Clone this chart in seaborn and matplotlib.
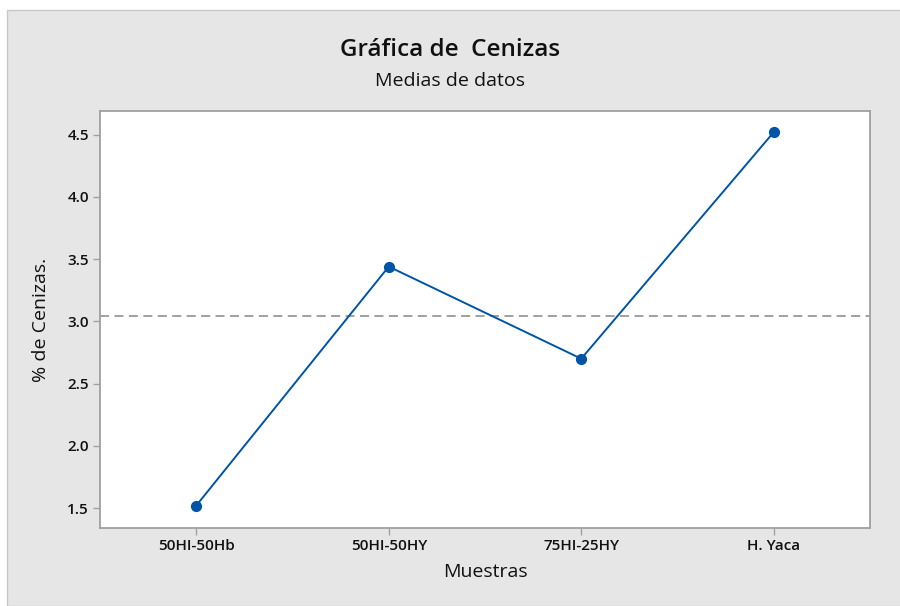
"""
Gráfica de Cenizas - medias de datos
"""

import matplotlib.pyplot as plt
import numpy as np
import pandas as pd
import seaborn as sns
from matplotlib.patches import Rectangle

muestras = ["50HI-50Hb", "50HI-50HY", "75HI-25HY", "H. Yaca"]
cenizas = [1.52, 3.44, 2.70, 4.52]
y_ticks = [1.5, 2.0, 2.5, 3.0, 3.5, 4.0, 4.5]

BG = "#e6e6e6"
BLUE = "#0054a6"
INK = "#111111"

sns.set_theme(style="white")
plt.rcParams["font.family"] = ["Open Sans", "DejaVu Sans"]

df = pd.DataFrame({"Muestras": muestras, "Cenizas": cenizas})

fig = plt.figure(figsize=(9, 6.06), dpi=100, facecolor="white")
fig.patches.append(
    Rectangle((7 / 900, 0), 1, 1 - 10 / 606, transform=fig.transFigure,
              facecolor=BG, edgecolor="#c8c8c8", lw=1, zorder=-10)
)
ax = fig.add_axes([100 / 900, 1 - 528 / 606, 770 / 900, 417 / 606])
ax.set_facecolor("white")

sns.pointplot(
    data=df, x="Muestras", y="Cenizas", color=BLUE, ax=ax,
    markers="o", linestyles="-", linewidth=1.4, markersize=7,
    errorbar=None,
)

# reference line at the overall mean
ax.axhline(np.mean(cenizas), color="#999999", lw=1.3, ls=(0, (5, 3)), zorder=0)

ax.set_xlim(-0.5, 3.5)
ax.set_ylim(1.34, 4.69)
ax.set_yticks(y_ticks)
ax.set_yticklabels([f"{v:.1f}" for v in y_ticks])

for s in ax.spines.values():
    s.set_color("#a0a0a0")
    s.set_linewidth(1.3)

ax.tick_params(axis="both", which="both", length=5, width=1, color="#a0a0a0",
               labelsize=11, pad=3, left=True, bottom=True)
for lbl in ax.get_xticklabels() + ax.get_yticklabels():
    lbl.set_fontweight("semibold")
    lbl.set_color(INK)

ax.set_xlabel("Muestras", fontsize=14, labelpad=7, color=INK)
ax.set_ylabel("% de Cenizas.", fontsize=14, labelpad=12, color=INK)

fig.text(0.5, 1 - 50 / 606, "Gráfica de  Cenizas", ha="center", va="center",
         fontsize=17.5, fontweight="semibold", color=INK)
fig.text(0.5, 1 - 81 / 606, "Medias de datos", ha="center", va="center",
         fontsize=14, color=INK)

fig.savefig("out.png", dpi=100, facecolor=fig.get_facecolor())
